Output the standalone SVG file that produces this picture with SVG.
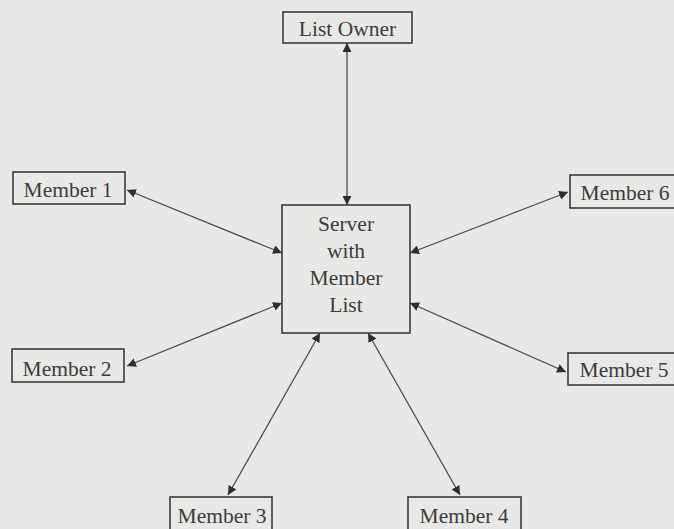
<svg xmlns="http://www.w3.org/2000/svg" width="674" height="529" viewBox="0 0 674 529">
  <style>
    .box { fill: none; stroke: #3a3a3a; stroke-width: 1.6; }
    .lbl { font-family: "Liberation Serif", "Times New Roman", serif; font-size: 21.5px; fill: #3c3c3c; text-anchor: middle; }
    .edge { stroke: #4a4a4a; stroke-width: 1.3; fill: none; marker-start: url(#head); marker-end: url(#head); }
  </style>
  <defs>
    <marker id="head" viewBox="0 0 10 10" refX="10" refY="5" markerWidth="9" markerHeight="9" markerUnits="userSpaceOnUse" orient="auto-start-reverse">
      <path d="M0,0 L10,5 L0,10 z" fill="#2e2e2e"/>
    </marker>
  </defs>

  <rect x="0" y="0" width="674" height="529" fill="#e8e8e6"/>

  <!-- connectors: every link is two-way -->
  <g id="connectors">
    <line class="edge" x1="347" y1="43" x2="347" y2="205"/>
    <line class="edge" x1="127" y1="190" x2="282" y2="253"/>
    <line class="edge" x1="127" y1="366" x2="282" y2="303"/>
    <line class="edge" x1="228" y1="495" x2="320" y2="333"/>
    <line class="edge" x1="460" y1="495" x2="368" y2="333"/>
    <line class="edge" x1="568" y1="192" x2="410" y2="253"/>
    <line class="edge" x1="566" y1="372" x2="410" y2="303"/>
  </g>

  <g id="list-owner">
    <rect class="box" x="283" y="12" width="129" height="31"/>
    <text class="lbl" x="347.5" y="36">List Owner</text>
  </g>

  <g id="server">
    <rect class="box" x="282" y="205" width="128" height="128"/>
    <text class="lbl" x="346" y="231">Server</text>
    <text class="lbl" x="346" y="258">with</text>
    <text class="lbl" x="346" y="285">Member</text>
    <text class="lbl" x="346" y="312">List</text>
  </g>

  <g id="member-1">
    <rect class="box" x="13" y="172" width="112" height="32"/>
    <text class="lbl" x="68" y="197">Member 1</text>
  </g>

  <g id="member-2">
    <rect class="box" x="12" y="349" width="112" height="33"/>
    <text class="lbl" x="67" y="376">Member 2</text>
  </g>

  <g id="member-3">
    <rect class="box" x="170" y="497" width="102" height="40"/>
    <text class="lbl" x="222" y="523">Member 3</text>
  </g>

  <g id="member-4">
    <rect class="box" x="408" y="497" width="113" height="40"/>
    <text class="lbl" x="464" y="523">Member 4</text>
  </g>

  <g id="member-5">
    <rect class="box" x="568" y="353" width="130" height="32"/>
    <text class="lbl" x="624" y="377">Member 5</text>
  </g>

  <g id="member-6">
    <rect class="box" x="570" y="175" width="130" height="33"/>
    <text class="lbl" x="625" y="200">Member 6</text>
  </g>
</svg>
